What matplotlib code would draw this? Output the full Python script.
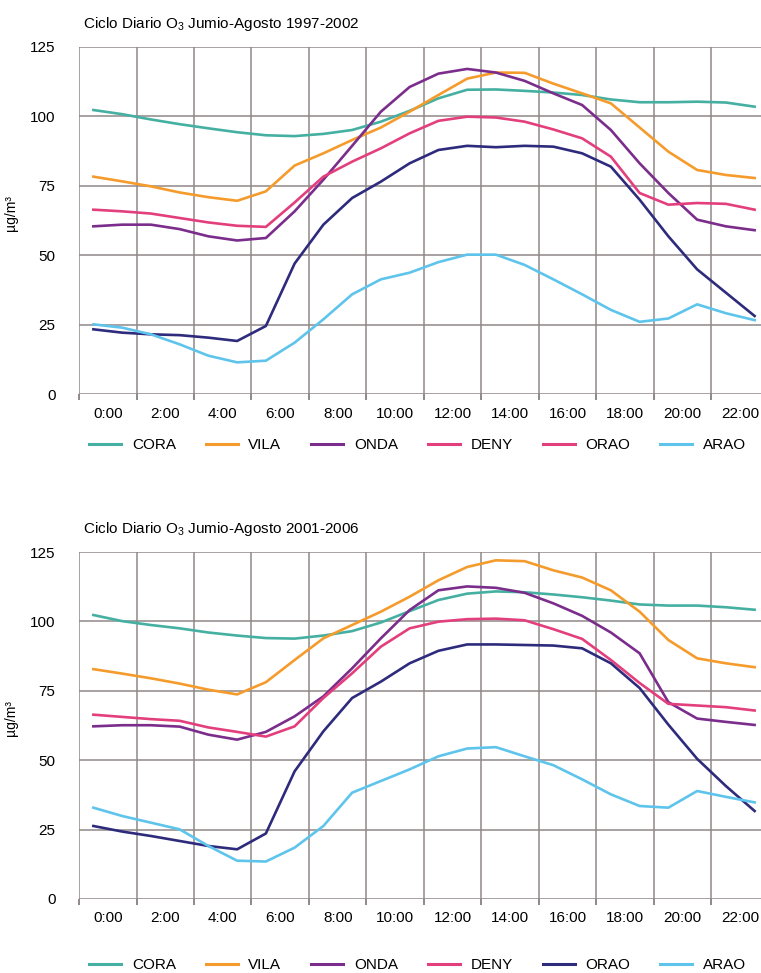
import numpy as np
import matplotlib
matplotlib.use("Agg")
import matplotlib.pyplot as plt
from matplotlib.lines import Line2D

plt.rcParams["font.family"] = ["Liberation Sans", "DejaVu Sans"]
plt.rcParams["mathtext.fontset"] = "custom"
plt.rcParams["mathtext.rm"] = "Liberation Sans"
plt.rcParams["mathtext.it"] = "Liberation Sans"

hours = np.arange(24)
tick_labels = ["0:00", "2:00", "4:00", "6:00", "8:00", "10:00", "12:00",
               "14:00", "16:00", "18:00", "20:00", "22:00"]
stations = ["CORA", "VILA", "ONDA", "DENY", "ORAO", "ARAO"]

# Junio-Agosto 1997-2002
cora_a = [102.3, 100.8, 98.9, 97.2, 95.7, 94.3, 93.2, 92.9, 93.7, 95.1, 98.1, 102.0,
          106.5, 109.6, 109.7, 109.2, 108.6, 107.7, 106.1, 105.1, 105.1, 105.3, 105.0, 103.5]
vila_a = [78.3, 76.6, 74.8, 72.6, 70.9, 69.6, 73.0, 82.3, 86.7, 91.5, 96.0, 101.7,
          107.7, 113.6, 115.8, 115.7, 111.8, 108.3, 104.7, 96.0, 87.3, 80.7, 78.9, 77.8]
onda_a = [60.4, 61.0, 61.0, 59.4, 56.8, 55.3, 56.2, 65.8, 77.2, 89.4, 101.7, 110.6,
          115.4, 117.1, 115.8, 112.8, 108.3, 104.1, 95.1, 83.1, 72.4, 62.8, 60.4, 59.0]
deny_a = [66.4, 65.8, 65.0, 63.4, 61.8, 60.6, 60.2, 69.0, 78.3, 83.7, 88.5, 93.9,
          98.4, 99.9, 99.6, 98.1, 95.3, 92.1, 85.5, 72.4, 68.2, 68.8, 68.5, 66.4]
orao_a = [23.3, 22.1, 21.5, 21.2, 20.3, 19.1, 24.5, 47.0, 61.0, 70.6, 76.5, 83.1,
          87.9, 89.4, 88.9, 89.4, 89.1, 86.7, 81.9, 70.0, 56.8, 44.9, 36.5, 28.1]
arao_a = [25.1, 23.9, 21.5, 17.9, 13.8, 11.4, 12.0, 18.5, 26.9, 35.9, 41.3, 43.7,
          47.5, 50.2, 50.2, 46.5, 41.3, 35.9, 30.3, 26.0, 27.2, 32.3, 29.1, 26.6]

# Junio-Agosto 2001-2006
cora_b = [102.3, 100.1, 98.7, 97.5, 96.0, 94.9, 94.0, 93.8, 94.9, 96.5, 99.6, 103.7,
          107.7, 110.0, 110.8, 110.5, 109.7, 108.7, 107.5, 106.1, 105.7, 105.7, 105.1, 104.2]
vila_b = [82.8, 81.2, 79.5, 77.6, 75.4, 73.7, 78.1, 86.1, 93.9, 98.7, 103.5, 108.9,
          114.8, 119.6, 122.0, 121.7, 118.4, 115.8, 111.2, 103.5, 93.3, 86.7, 84.9, 83.5]
onda_b = [62.2, 62.6, 62.6, 62.1, 59.2, 57.4, 60.2, 65.8, 73.0, 83.1, 93.9, 104.1,
          111.2, 112.6, 112.1, 110.3, 106.5, 102.0, 96.0, 88.5, 70.9, 65.0, 63.8, 62.7]
deny_b = [66.4, 65.6, 64.8, 64.2, 61.8, 60.2, 58.5, 62.2, 72.4, 81.3, 90.9, 97.5,
          99.9, 100.8, 101.0, 100.4, 97.2, 93.7, 86.1, 77.8, 70.3, 69.7, 69.1, 67.9]
orao_b = [26.3, 24.3, 22.7, 20.9, 19.1, 17.9, 23.6, 46.0, 60.4, 72.4, 78.3, 84.9,
          89.4, 91.7, 91.7, 91.5, 91.3, 90.3, 84.9, 76.0, 62.8, 50.5, 40.7, 31.7]
arao_b = [32.9, 29.9, 27.5, 25.1, 19.1, 13.8, 13.5, 18.5, 26.3, 38.3, 42.5, 46.7,
          51.4, 54.2, 54.7, 51.4, 48.2, 43.1, 37.7, 33.5, 32.9, 38.9, 36.8, 34.8]

colors = ["#45b0a2", "#f59b2c", "#7b2d8c", "#e33f7d", "#2e2b7d", "#5ec4ec"]
# the first legend shows ORAO with the DENY colour
legend_colors_a = ["#45b0a2", "#f59b2c", "#7b2d8c", "#e33f7d", "#e33f7d", "#5ec4ec"]

grid_c = "#8f8888"
W, H = 761, 973
fig = plt.figure(figsize=(W / 100, H / 100), dpi=100)


def panel(top_px, series, title, leg_y, leg_colors):
    ax = fig.add_axes([79 / W, 1 - (top_px + 347) / H, 690 / W, 347 / H])
    for vals, c in zip(series, colors):
        ax.plot(hours + 0.5, vals, color=c, lw=1.9, solid_joinstyle="round", zorder=3)
    ax.set_xlim(0, 24)
    ax.set_ylim(0, 125)
    ax.set_yticks([0, 25, 50, 75, 100, 125])
    ax.set_xticks(np.arange(0, 25, 2))
    ax.set_xticklabels([])
    ax.set_xticks(np.arange(1, 24, 2), minor=True)
    ax.set_xticklabels(tick_labels, minor=True)
    ax.tick_params(axis="x", which="major", length=4, width=1.4, color=grid_c, direction="out")
    ax.tick_params(axis="x", which="minor", length=0, pad=9, labelsize=11)
    ax.tick_params(axis="y", length=0, pad=17, labelsize=11)
    ax.grid(True, which="major", color=grid_c, lw=1.1)
    ax.set_axisbelow(True)
    for s in ax.spines.values():
        s.set_visible(False)
    ax.set_ylabel("µg/m³", fontsize=10)
    ax.yaxis.set_label_coords(-0.088, 0.52)
    fig.text(83 / W, 1 - (top_px - 23) / H, title, fontsize=11, va="center", ha="left")
    handles = [Line2D([], [], color=c, lw=2.2) for c in leg_colors]
    fig.legend(handles, stations, loc="center left", bbox_to_anchor=(89 / W, 1 - leg_y / H),
               ncol=6, frameon=False, fontsize=11, handlelength=2.1, handletextpad=0.7,
               columnspacing=1.95, borderpad=0, borderaxespad=0)
    return ax


panel(47, [cora_a, vila_a, onda_a, deny_a, orao_a, arao_a],
      r"Ciclo Diario O$_3$ Jumio-Agosto 1997-2002", 445, legend_colors_a)
panel(552, [cora_b, vila_b, onda_b, deny_b, orao_b, arao_b],
      r"Ciclo Diario O$_3$ Jumio-Agosto 2001-2006", 965, colors)

fig.savefig("out.png", dpi=100)
